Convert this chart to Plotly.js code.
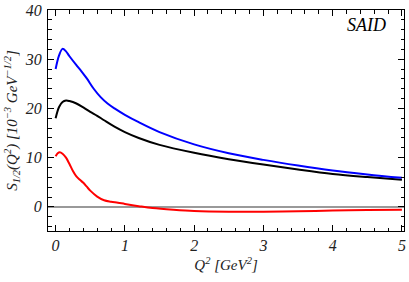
<!DOCTYPE html>
<html><head><meta charset="utf-8">
<script src="https://cdn.plot.ly/plotly-3.0.1.min.js"></script>
<style>html,body{margin:0;padding:0;background:#fff;}#chart{width:409px;height:282px;}</style>
</head><body><div id="chart"></div>
<script>
const q2Blue = [0, 0.05, 0.1, 0.15, 0.2, 0.3, 0.37, 0.45, 0.55, 0.65, 0.75, 0.85, 1.0, 1.2, 1.5, 2.0, 2.5, 3.0, 3.5, 4.0, 4.5, 5.0];
const sBlue  = [28, 30.8, 32.1, 31.6, 30.6, 28.8, 27.6, 26.1, 24.0, 22.3, 21.0, 20.0, 18.7, 17.2, 15.2, 12.7, 10.9, 9.55, 8.4, 7.4, 6.6, 5.9];
const q2Black = [0, 0.05, 0.1, 0.15, 0.2, 0.3, 0.4, 0.5, 0.6, 0.7, 0.85, 1.0, 1.2, 1.5, 2.0, 2.5, 3.0, 3.5, 4.0, 4.5, 5.0];
const sBlack  = [18, 20.3, 21.3, 21.6, 21.5, 21.0, 20.2, 19.3, 18.5, 17.6, 16.3, 15.2, 14.0, 12.6, 11.0, 9.7, 8.6, 7.6, 6.7, 6.05, 5.5];
const q2Red = [0, 0.03, 0.06, 0.1, 0.15, 0.2, 0.25, 0.3, 0.35, 0.4, 0.45, 0.5, 0.6, 0.7, 0.8, 0.9, 1.0, 1.2, 1.4, 1.7, 2.0, 2.5, 3.0, 3.5, 4.0, 4.5, 5.0];
const sRed  = [10.3, 10.9, 11.1, 10.8, 10.0, 8.7, 7.3, 6.2, 5.5, 4.9, 4.1, 3.3, 2.1, 1.35, 1.05, 0.85, 0.6, 0.15, -0.25, -0.6, -0.85, -1.0, -1.0, -0.9, -0.75, -0.65, -0.6];
const xTicks = [0, 1, 2, 3, 4, 5];
const yTicks = [0, 10, 20, 30, 40];

const serif = 'Times New Roman, Liberation Serif, DejaVu Serif, serif';
const tickFont = {family: serif, size: 16, color: '#222', style: 'italic'};

const traces = [
  {x: q2Red, y: sRed, mode: 'lines', line: {color: '#ff0000', width: 2, shape: 'spline', smoothing: 1}, hoverinfo: 'skip'},
  {x: q2Black, y: sBlack, mode: 'lines', line: {color: '#000000', width: 2, shape: 'spline', smoothing: 1}, hoverinfo: 'skip'},
  {x: q2Blue, y: sBlue, mode: 'lines', line: {color: '#0000ff', width: 2, shape: 'spline', smoothing: 1}, hoverinfo: 'skip'}
];

const layout = {
  width: 409, height: 282,
  margin: {l: 48, r: 5, t: 10, b: 51},
  paper_bgcolor: '#fff', plot_bgcolor: '#fff',
  showlegend: false,
  font: {family: serif, style: 'italic'},
  xaxis: {
    range: [-0.11, 5.03], tickvals: xTicks, ticktext: xTicks.map(String),
    ticks: 'inside', ticklen: 6, tickwidth: 1, tickcolor: '#000',
    minor: {dtick: 0.2, tick0: 0, ticks: 'inside', ticklen: 3.5, tickwidth: 1, tickcolor: '#000', showgrid: false},
    showline: true, linecolor: '#000', linewidth: 1, mirror: 'allticks',
    showgrid: false, zeroline: false, tickfont: tickFont,
    title: {text: 'Q<sup>2</sup> [GeV<sup>2</sup>]', font: {family: serif, size: 15, color: '#222', style: 'italic'}, standoff: 6}
  },
  yaxis: {
    range: [-4.9, 40], tickvals: yTicks, ticktext: yTicks.map(String),
    ticks: 'inside', ticklen: 6, tickwidth: 1, tickcolor: '#000',
    minor: {dtick: 2, tick0: 0, ticks: 'inside', ticklen: 3.5, tickwidth: 1, tickcolor: '#000', showgrid: false},
    showline: true, linecolor: '#000', linewidth: 1, mirror: 'allticks',
    showgrid: false, zeroline: true, zerolinecolor: '#999', zerolinewidth: 1.5,
    tickfont: tickFont, ticklabelstandoff: 2,
    title: {text: 'S<sub>1/2</sub>(Q<sup>2</sup>) [10<sup>\u22123</sup> GeV<sup>\u22121/2</sup>]', font: {family: serif, size: 15, color: '#222', style: 'italic'}, standoff: 3}
  },
  annotations: [{
    xref: 'paper', yref: 'paper', x: 0.955, y: 0.93, xanchor: 'right', yanchor: 'middle',
    text: 'SAID', showarrow: false, font: {family: serif, size: 18, color: '#000', style: 'italic'}
  }]
};

Plotly.newPlot('chart', traces, layout, {displayModeBar: false, staticPlot: true});
</script>
</body></html>
